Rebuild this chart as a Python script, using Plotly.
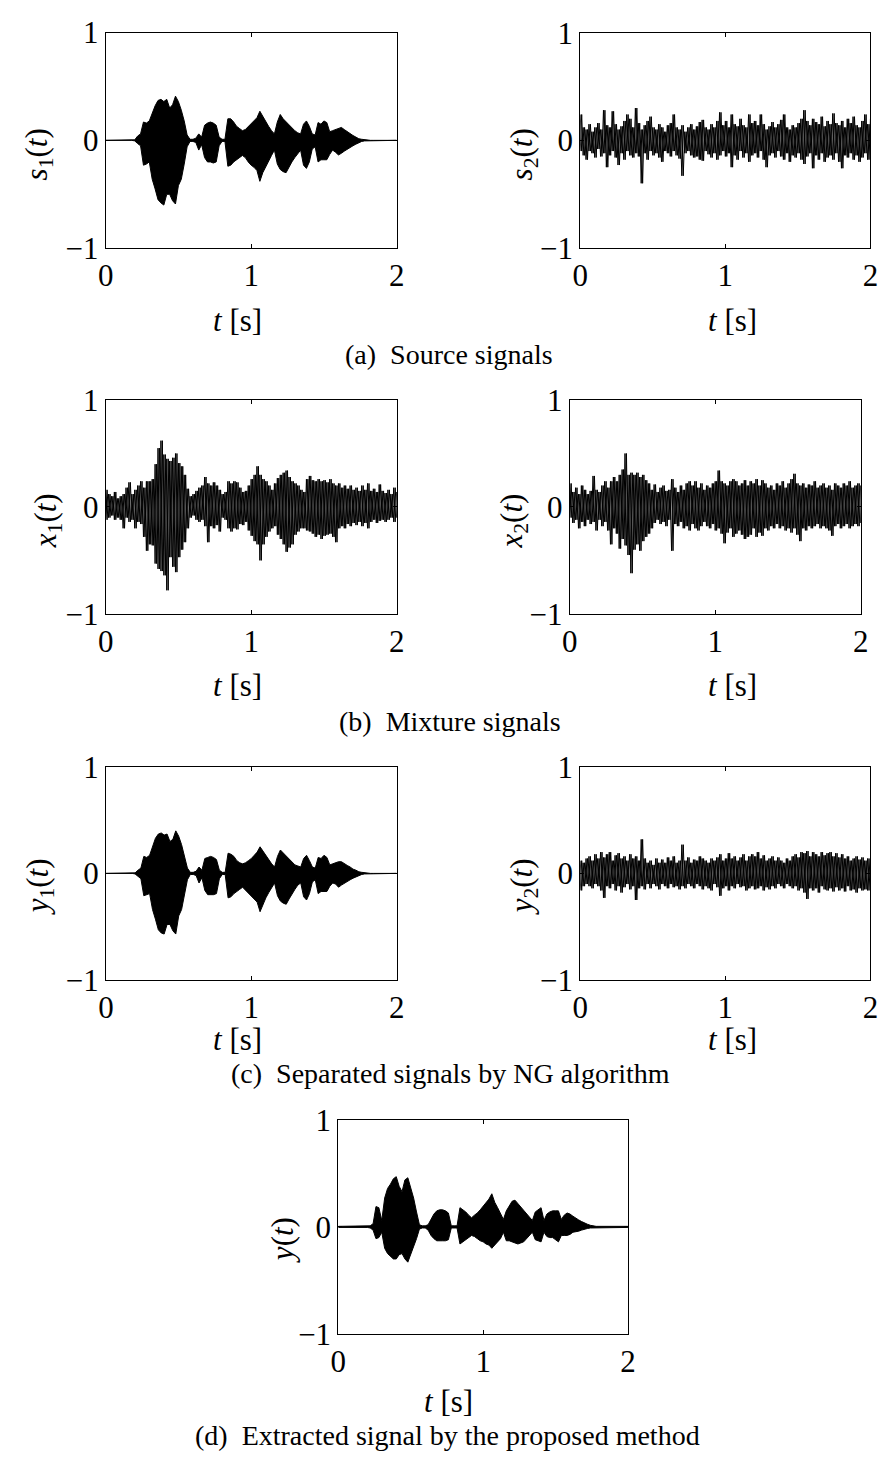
import numpy as np
import plotly.graph_objects as go

# page is 887x1472; the html body keeps its default 8 px margin
OFF = 8
W, H = 887 - OFF, 1472 - 2 * OFF

# sampling grid of the read-off envelopes (seconds)
t = np.linspace(0.0, 2.0, 101)

# ---------- (a) source signals ----------
s1_hi = [0, 0, 0, 0, 0, 0, 0, 0, 0, 0,
         0.005, 0.04, 0.06, 0.17, 0.16, 0.18, 0.25, 0.32, 0.37, 0.38,
         0.36, 0.38, 0.3, 0.33, 0.41, 0.36, 0.28, 0.18, 0.05, 0.01,
         0.01, 0.02, 0.06, 0.03, 0.14, 0.16, 0.17, 0.16, 0.14, 0.03,
         0.01, 0.01, 0.2, 0.2, 0.17, 0.13, 0.11, 0.09, 0.1, 0.13,
         0.15, 0.18, 0.21, 0.27, 0.22, 0.17, 0.13, 0.09, 0.06, 0.17,
         0.24, 0.2, 0.17, 0.14, 0.11, 0.09, 0.07, 0.06, 0.15, 0.18,
         0.13, 0.06, 0.05, 0.165, 0.15, 0.18, 0.165, 0.08, 0.09, 0.1,
         0.11, 0.12, 0.1, 0.08, 0.065, 0.045, 0.03, 0.015, 0.01, 0.005,
         0, 0, 0, 0, 0, 0, 0, 0, 0, 0, 0]
s1_lo = [0, 0, 0, 0, 0, 0, 0, 0, 0, 0,
         -0.005, -0.03, -0.05, -0.23, -0.22, -0.2, -0.36, -0.45, -0.55, -0.58,
         -0.6, -0.5, -0.5, -0.56, -0.59, -0.42, -0.36, -0.22, -0.06, -0.01,
         -0.01, -0.02, -0.09, -0.04, -0.16, -0.2, -0.2, -0.21, -0.2, -0.05,
         -0.01, -0.01, -0.24, -0.23, -0.2, -0.18, -0.16, -0.14, -0.16, -0.2,
         -0.23, -0.25, -0.28, -0.38, -0.3, -0.24, -0.19, -0.14, -0.09, -0.22,
         -0.27, -0.29, -0.3, -0.25, -0.2, -0.16, -0.12, -0.09, -0.23, -0.26,
         -0.2, -0.08, -0.06, -0.2, -0.18, -0.18, -0.18, -0.13, -0.09, -0.11,
         -0.135, -0.12, -0.1, -0.08, -0.065, -0.05, -0.035, -0.02, -0.01, -0.005,
         0, 0, 0, 0, 0, 0, 0, 0, 0, 0, 0]

s2_hi = [0.24, 0.12, 0.1, 0.15, 0.08, 0.12, 0.16, 0.1, 0.28, 0.14,
         0.12, 0.27, 0.15, 0.1, 0.13, 0.18, 0.24, 0.2, 0.12, 0.3,
         0.16, 0.1, 0.14, 0.18, 0.22, 0.12, 0.1, 0.15, 0.12, 0.08,
         0.14, 0.16, 0.24, 0.12, 0.1, 0.14, 0.08, 0.12, 0.15, 0.1,
         0.13, 0.17, 0.19, 0.12, 0.1, 0.15, 0.12, 0.18, 0.26, 0.14,
         0.18, 0.12, 0.24, 0.15, 0.13, 0.2, 0.14, 0.12, 0.24, 0.16,
         0.18, 0.14, 0.24, 0.15, 0.1, 0.13, 0.17, 0.12, 0.15, 0.19,
         0.24, 0.12, 0.1, 0.14, 0.12, 0.16, 0.2, 0.28, 0.18, 0.14,
         0.2, 0.17, 0.15, 0.22, 0.13, 0.18, 0.15, 0.25, 0.16, 0.14,
         0.18, 0.12, 0.2, 0.16, 0.22, 0.14, 0.12, 0.18, 0.24, 0.15,
         0.2]
s2_lo = [-0.1, -0.14, -0.18, -0.1, -0.12, -0.16, -0.08, -0.15, -0.12, -0.25,
         -0.14, -0.1, -0.16, -0.23, -0.12, -0.18, -0.1, -0.14, -0.16, -0.12,
         -0.15, -0.4, -0.12, -0.18, -0.1, -0.14, -0.12, -0.16, -0.2, -0.1,
         -0.12, -0.15, -0.1, -0.14, -0.17, -0.33, -0.12, -0.1, -0.14, -0.16,
         -0.15, -0.18, -0.19, -0.1, -0.13, -0.16, -0.12, -0.18, -0.14, -0.1,
         -0.15, -0.12, -0.25, -0.14, -0.18, -0.1, -0.16, -0.12, -0.2, -0.14,
         -0.12, -0.16, -0.1, -0.18, -0.25, -0.14, -0.12, -0.16, -0.1, -0.15,
         -0.18, -0.12, -0.2, -0.14, -0.16, -0.12, -0.18, -0.22, -0.15, -0.12,
         -0.26, -0.14, -0.18, -0.12, -0.2, -0.16, -0.14, -0.18, -0.12, -0.2,
         -0.26, -0.14, -0.16, -0.12, -0.18, -0.14, -0.2, -0.16, -0.12, -0.18,
         -0.14]

# ---------- (b) mixture signals ----------
x1_hi = [0.16, 0.12, 0.1, 0.14, 0.08, 0.1, 0.12, 0.18, 0.23, 0.12,
         0.16, 0.2, 0.24, 0.18, 0.24, 0.24, 0.26, 0.4, 0.55, 0.62,
         0.49, 0.45, 0.43, 0.46, 0.5, 0.41, 0.38, 0.3, 0.17, 0.1,
         0.12, 0.15, 0.18, 0.2, 0.28, 0.22, 0.2, 0.23, 0.2, 0.16,
         0.12, 0.14, 0.24, 0.22, 0.24, 0.23, 0.18, 0.14, 0.15, 0.2,
         0.26, 0.3, 0.38, 0.3, 0.26, 0.24, 0.2, 0.16, 0.22, 0.27,
         0.3, 0.32, 0.34, 0.28, 0.24, 0.22, 0.2, 0.16, 0.14, 0.26,
         0.29, 0.25, 0.24, 0.26, 0.24, 0.25, 0.23, 0.26, 0.22, 0.2,
         0.22, 0.18, 0.2, 0.17, 0.2, 0.16, 0.18, 0.15, 0.2, 0.16,
         0.22, 0.15, 0.17, 0.14, 0.21, 0.15, 0.13, 0.16, 0.12, 0.18,
         0.14]
x1_lo = [-0.12, -0.1, -0.08, -0.12, -0.1, -0.12, -0.2, -0.1, -0.14, -0.12,
         -0.2, -0.14, -0.16, -0.28, -0.41, -0.35, -0.36, -0.53, -0.58, -0.6,
         -0.64, -0.78, -0.47, -0.56, -0.61, -0.47, -0.4, -0.33, -0.2, -0.1,
         -0.08, -0.12, -0.14, -0.12, -0.18, -0.33, -0.18, -0.2, -0.17, -0.23,
         -0.1, -0.12, -0.2, -0.23, -0.2, -0.21, -0.16, -0.17, -0.14, -0.22,
         -0.27, -0.32, -0.35, -0.5, -0.35, -0.28, -0.23, -0.2, -0.18, -0.26,
         -0.3, -0.35, -0.42, -0.38, -0.35, -0.26, -0.23, -0.2, -0.2, -0.22,
         -0.23, -0.25, -0.28, -0.26, -0.3, -0.27, -0.26, -0.25, -0.28, -0.33,
         -0.2, -0.18, -0.2, -0.16, -0.18, -0.15, -0.17, -0.14, -0.18, -0.15,
         -0.2, -0.14, -0.12, -0.15, -0.13, -0.12, -0.14, -0.12, -0.1, -0.14,
         -0.1]

x2_hi = [0.22, 0.14, 0.18, 0.12, 0.2, 0.16, 0.12, 0.15, 0.29, 0.16,
         0.14, 0.2, 0.24, 0.18, 0.24, 0.28, 0.24, 0.3, 0.35, 0.5,
         0.3, 0.32, 0.3, 0.32, 0.28, 0.3, 0.25, 0.22, 0.16, 0.21,
         0.14, 0.18, 0.2, 0.15, 0.16, 0.26, 0.18, 0.14, 0.2, 0.16,
         0.22, 0.24, 0.2, 0.24, 0.18, 0.22, 0.16, 0.2, 0.18, 0.22,
         0.24, 0.34, 0.24, 0.22, 0.2, 0.24, 0.26, 0.24, 0.2, 0.22,
         0.25, 0.2, 0.24, 0.22, 0.26, 0.2, 0.25, 0.22, 0.18, 0.2,
         0.16, 0.22, 0.2, 0.24, 0.18, 0.22, 0.26, 0.31, 0.22, 0.2,
         0.22, 0.18, 0.21, 0.2, 0.24, 0.18, 0.2, 0.22, 0.18, 0.2,
         0.16, 0.22, 0.2, 0.18, 0.22, 0.2, 0.24, 0.18, 0.2, 0.22,
         0.2]
x2_lo = [-0.1, -0.15, -0.12, -0.2, -0.14, -0.18, -0.12, -0.16, -0.14, -0.22,
         -0.12, -0.18, -0.14, -0.22, -0.35, -0.2, -0.25, -0.39, -0.3, -0.36,
         -0.45, -0.62, -0.4, -0.35, -0.41, -0.32, -0.28, -0.25, -0.2, -0.15,
         -0.12, -0.16, -0.14, -0.18, -0.12, -0.41, -0.16, -0.18, -0.14, -0.2,
         -0.18, -0.22, -0.16, -0.2, -0.22, -0.18, -0.14, -0.18, -0.2, -0.16,
         -0.22, -0.2, -0.25, -0.34, -0.24, -0.2, -0.28, -0.25, -0.22, -0.26,
         -0.3, -0.28, -0.26, -0.2, -0.28, -0.24, -0.27, -0.2, -0.22, -0.18,
         -0.2, -0.16, -0.2, -0.18, -0.22, -0.2, -0.24, -0.2, -0.26, -0.32,
         -0.2, -0.22, -0.18, -0.2, -0.18, -0.16, -0.2, -0.18, -0.2, -0.22,
         -0.27, -0.18, -0.16, -0.2, -0.18, -0.16, -0.2, -0.18, -0.16, -0.18,
         -0.15]

# ---------- (c) separated signals (NG) ----------
y1_hi = [0, 0, 0, 0, 0, 0, 0, 0, 0, 0,
         0.005, 0.03, 0.05, 0.16, 0.15, 0.17, 0.26, 0.33, 0.37, 0.38,
         0.36, 0.37, 0.3, 0.32, 0.4, 0.35, 0.27, 0.17, 0.05, 0.01,
         0.01, 0.02, 0.06, 0.03, 0.14, 0.15, 0.16, 0.15, 0.13, 0.03,
         0.01, 0.01, 0.19, 0.18, 0.16, 0.12, 0.1, 0.09, 0.1, 0.12,
         0.14, 0.17, 0.2, 0.25, 0.21, 0.16, 0.12, 0.09, 0.06, 0.16,
         0.22, 0.19, 0.16, 0.13, 0.1, 0.08, 0.07, 0.06, 0.14, 0.17,
         0.12, 0.06, 0.05, 0.15, 0.14, 0.17, 0.15, 0.08, 0.09, 0.1,
         0.11, 0.11, 0.09, 0.075, 0.06, 0.04, 0.03, 0.015, 0.01, 0.005,
         0, 0, 0, 0, 0, 0, 0, 0, 0, 0, 0]
y1_lo = [0, 0, 0, 0, 0, 0, 0, 0, 0, 0,
         -0.005, -0.03, -0.05, -0.21, -0.2, -0.19, -0.34, -0.43, -0.53, -0.56,
         -0.57, -0.48, -0.48, -0.54, -0.57, -0.4, -0.34, -0.21, -0.06, -0.01,
         -0.01, -0.02, -0.09, -0.04, -0.16, -0.2, -0.2, -0.2, -0.19, -0.05,
         -0.01, -0.01, -0.23, -0.22, -0.19, -0.17, -0.15, -0.13, -0.15, -0.19,
         -0.22, -0.24, -0.27, -0.36, -0.29, -0.23, -0.18, -0.13, -0.09, -0.21,
         -0.26, -0.28, -0.29, -0.24, -0.19, -0.15, -0.11, -0.09, -0.22, -0.25,
         -0.19, -0.08, -0.06, -0.19, -0.17, -0.17, -0.17, -0.12, -0.09, -0.1,
         -0.13, -0.11, -0.095, -0.075, -0.06, -0.045, -0.03, -0.02, -0.01, -0.005,
         0, 0, 0, 0, 0, 0, 0, 0, 0, 0, 0]

y2_hi = [0.12, 0.1, 0.14, 0.16, 0.12, 0.18, 0.14, 0.2, 0.15, 0.18,
         0.2, 0.12, 0.17, 0.19, 0.14, 0.16, 0.12, 0.18, 0.14, 0.16,
         0.12, 0.32, 0.14, 0.1, 0.12, 0.08, 0.14, 0.1, 0.13, 0.1,
         0.15, 0.12, 0.16, 0.1, 0.12, 0.27, 0.12, 0.15, 0.1, 0.13,
         0.12, 0.16, 0.14, 0.12, 0.1, 0.14, 0.12, 0.15, 0.18, 0.12,
         0.14, 0.19, 0.14, 0.16, 0.12, 0.15, 0.18, 0.12, 0.16, 0.18,
         0.16, 0.2, 0.14, 0.17, 0.12, 0.14, 0.16, 0.12, 0.15, 0.12,
         0.1, 0.14, 0.12, 0.16, 0.18, 0.15, 0.2, 0.19, 0.21, 0.16,
         0.2, 0.18, 0.16, 0.2, 0.17, 0.19, 0.2, 0.16, 0.19, 0.15,
         0.18, 0.14, 0.16, 0.12, 0.14, 0.16, 0.13, 0.15, 0.12, 0.14,
         0.13]
y2_lo = [-0.16, -0.12, -0.1, -0.12, -0.14, -0.1, -0.12, -0.16, -0.23, -0.12,
         -0.14, -0.1, -0.16, -0.12, -0.18, -0.13, -0.1, -0.15, -0.12, -0.25,
         -0.14, -0.12, -0.15, -0.1, -0.14, -0.1, -0.12, -0.15, -0.1, -0.12,
         -0.14, -0.1, -0.13, -0.12, -0.15, -0.12, -0.14, -0.1, -0.12, -0.14,
         -0.1, -0.12, -0.15, -0.12, -0.14, -0.16, -0.1, -0.13, -0.21, -0.14,
         -0.12, -0.16, -0.12, -0.14, -0.1, -0.13, -0.12, -0.16, -0.14, -0.12,
         -0.15, -0.14, -0.12, -0.16, -0.13, -0.15, -0.12, -0.14, -0.1, -0.12,
         -0.14, -0.1, -0.12, -0.14, -0.12, -0.16, -0.14, -0.18, -0.24, -0.14,
         -0.16, -0.14, -0.18, -0.12, -0.15, -0.16, -0.14, -0.17, -0.13, -0.16,
         -0.14, -0.17, -0.12, -0.16, -0.15, -0.18, -0.14, -0.16, -0.15, -0.16,
         -0.12]

# ---------- (d) extracted signal ----------
y_hi = [0.005, 0.005, 0.005, 0.005, 0.005, 0.005, 0.005, 0.005, 0.005, 0.005,
        0.005, 0.01, 0.03, 0.19, 0.18, 0.06, 0.27, 0.36, 0.4, 0.45,
        0.47, 0.38, 0.33, 0.44, 0.46, 0.37, 0.27, 0.14, 0.02, 0.01,
        0.01, 0.02, 0.07, 0.12, 0.15, 0.16, 0.16, 0.15, 0.13, 0.01,
        0.01, 0.01, 0.18, 0.16, 0.14, 0.11, 0.085, 0.11, 0.13, 0.16,
        0.19, 0.22, 0.26, 0.31, 0.23, 0.18, 0.13, 0.07, 0.15, 0.2,
        0.24, 0.25, 0.22, 0.18, 0.15, 0.12, 0.09, 0.06, 0.14, 0.16,
        0.18, 0.06, 0.12, 0.14, 0.15, 0.15, 0.15, 0.07, 0.11, 0.13,
        0.12, 0.1, 0.08, 0.065, 0.05, 0.035, 0.025, 0.015, 0.008, 0.005,
        0.005, 0.005, 0.005, 0.005, 0.005, 0.005, 0.005, 0.005, 0.005, 0.005,
        0.005]
y_lo = [-0.005, -0.005, -0.005, -0.005, -0.005, -0.005, -0.005, -0.005, -0.005, -0.005,
        -0.005, -0.01, -0.03, -0.11, -0.1, -0.05, -0.2, -0.25, -0.27, -0.3,
        -0.3, -0.26, -0.25, -0.3, -0.33, -0.25, -0.19, -0.11, -0.02, -0.01,
        -0.01, -0.03, -0.08, -0.11, -0.13, -0.13, -0.13, -0.13, -0.12, -0.01,
        -0.01, -0.01, -0.16, -0.14, -0.12, -0.1, -0.08, -0.09, -0.11, -0.13,
        -0.14, -0.16, -0.17, -0.2, -0.17, -0.14, -0.11, -0.05, -0.13, -0.13,
        -0.14, -0.15, -0.16, -0.15, -0.14, -0.11, -0.08, -0.05, -0.12, -0.13,
        -0.14, -0.05, -0.09, -0.1, -0.1, -0.12, -0.14, -0.08, -0.08, -0.08,
        -0.07, -0.05, -0.045, -0.04, -0.03, -0.02, -0.015, -0.01, -0.008, -0.005,
        -0.005, -0.005, -0.005, -0.005, -0.005, -0.005, -0.005, -0.005, -0.005, -0.005,
        -0.005]

x_ticks = [0, 1, 2]
y_ticks = [-1, 0, 1]
captions = ["(a)  Source signals", "(b)  Mixture signals",
            "(c)  Separated signals by NG algorithm",
            "(d)  Extracted signal by the proposed method"]

FONT = "Liberation Serif"
TICK_SIZE = 31
TITLE_SIZE = 31
CAP_SIZE = 28

# panel boxes in page pixels: (x0, x1, y0, y1), signal, style, ylabel, ylabel centre, xlabel centre
panels = [
    ((99.3, 395.7, 15.7, 236.7), (s1_hi, s1_lo), "fill", "<i>s</i><sub>1</sub>(<i>t</i>)", (31, 141), (234, 311)),
    ((582.7, 878.3, 16.0, 236.3), (s2_hi, s2_lo), "zig", "<i>s</i><sub>2</sub>(<i>t</i>)", (525, 141), (738, 311)),
    ((99.3, 395.7, 392.3, 611.3), (x1_hi, x1_lo), "zig", "<i>x</i><sub>1</sub>(<i>t</i>)", (40, 516), (234, 685)),
    ((572.0, 868.3, 392.3, 611.3), (x2_hi, x2_lo), "zig", "<i>x</i><sub>2</sub>(<i>t</i>)", (515, 516), (738, 685)),
    ((99.7, 395.7, 768.3, 986.3), (y1_hi, y1_lo), "fill", "<i>y</i><sub>1</sub>(<i>t</i>)", (32, 891), (234, 1047)),
    ((582.7, 878.3, 768.3, 986.3), (y2_hi, y2_lo), "zig", "<i>y</i><sub>2</sub>(<i>t</i>)", (525, 891), (738, 1047)),
    ((336.3, 631.3, 1130.0, 1349.0), (y_hi, y_lo), "fill", "<i>y</i>(<i>t</i>)", (279, 1253), (449, 1418)),
]
caption_pos = [(449, 346), (450, 722), (451, 1082), (447, 1453)]


def px(xp):
    return (xp - OFF) / W


def py(yp):
    return 1 - (yp - OFF) / H


fig = go.Figure()
layout = dict(width=W, height=H, margin=dict(l=0, r=0, t=0, b=0),
              paper_bgcolor="white", plot_bgcolor="white", showlegend=False,
              font=dict(family=FONT, color="black"))
annotations = []
half = (t[1] - t[0]) / 2.0

for k, (box, (hi, lo), style, ylab, ypos, xpos) in enumerate(panels, start=1):
    xa = "x" if k == 1 else f"x{k}"
    ya = "y" if k == 1 else f"y{k}"
    if style == "fill":
        xs = list(t) + list(t[::-1])
        ys = list(hi) + list(lo)[::-1]
        fig.add_trace(go.Scatter(x=xs, y=ys, xaxis=xa, yaxis=ya, mode="lines",
                                 fill="toself", fillcolor="black",
                                 line=dict(color="black", width=1), hoverinfo="skip"))
    else:
        # two interleaved strokes through the same peaks -> dense noisy band
        for a, b in ((hi, lo), (lo, hi)):
            xs, ys = [], []
            for i in range(len(t)):
                xs += [t[i], t[i] + half]
                ys += [a[i], b[i]]
            fig.add_trace(go.Scatter(x=xs, y=ys, xaxis=xa, yaxis=ya, mode="lines",
                                     line=dict(color="black", width=1), hoverinfo="skip"))
    x0, x1, y0, y1 = box
    axname_x = "xaxis" if k == 1 else f"xaxis{k}"
    axname_y = "yaxis" if k == 1 else f"yaxis{k}"
    common = dict(showline=True, mirror="ticks", linecolor="black", linewidth=1,
                  ticks="inside", ticklen=4, tickwidth=1, tickcolor="black",
                  showgrid=False, zeroline=False, ticklabeloverflow="allow",
                  tickfont=dict(family=FONT, size=TICK_SIZE, color="black"))
    layout[axname_x] = dict(domain=[px(x0), px(x1)], range=[0, 2], tickvals=x_ticks,
                            anchor=ya, **common)
    layout[axname_y] = dict(domain=[py(y1), py(y0)], range=[-1, 1], tickvals=y_ticks,
                            anchor=xa, **common)
    annotations.append(dict(text=ylab, x=px(ypos[0]), y=py(ypos[1]), xref="paper", yref="paper",
                            showarrow=False, textangle=-90, xanchor="center", yanchor="middle",
                            font=dict(family=FONT, size=TITLE_SIZE, color="black")))
    annotations.append(dict(text="<i>t</i> [s]", x=px(xpos[0]), y=py(xpos[1]), xref="paper",
                            yref="paper", showarrow=False, xanchor="center", yanchor="middle",
                            font=dict(family=FONT, size=TITLE_SIZE, color="black")))

for txt, (cx, cy) in zip(captions, caption_pos):
    annotations.append(dict(text=txt, x=px(cx), y=py(cy), xref="paper", yref="paper",
                            showarrow=False, xanchor="center", yanchor="middle",
                            font=dict(family=FONT, size=CAP_SIZE, color="black")))

layout["annotations"] = annotations
fig.update_layout(**layout)
fig.write_html("out.html")
